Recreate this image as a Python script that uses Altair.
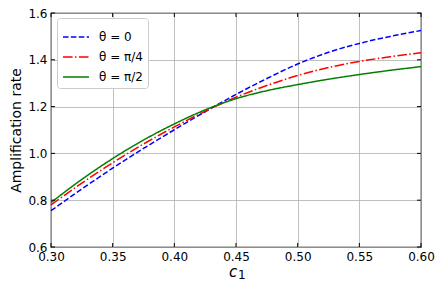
import altair as alt
import pandas as pd

c1 = [0.30, 0.325, 0.35, 0.375, 0.40, 0.425, 0.45, 0.475, 0.50, 0.525, 0.55, 0.575, 0.60]
rate_theta_0 = [0.755, 0.848, 0.937, 1.021, 1.101, 1.178, 1.252, 1.320, 1.382, 1.432, 1.470, 1.500, 1.525]
rate_theta_pi4 = [0.780, 0.873, 0.960, 1.040, 1.113, 1.180, 1.240, 1.290, 1.333, 1.367, 1.393, 1.413, 1.430]
rate_theta_pi2 = [0.790, 0.889, 0.978, 1.057, 1.126, 1.186, 1.234, 1.268, 1.294, 1.317, 1.337, 1.355, 1.371]
series_labels = ["θ = 0", "θ = π/4", "θ = π/2"]
series_colors = ["#0000ff", "#ff0000", "#008000"]
series_dash = [[5.5, 2.4], [9.6, 2.4, 1.5, 2.4], [1, 0]]
x_ticks = [0.30, 0.35, 0.40, 0.45, 0.50, 0.55, 0.60]
y_ticks = [0.6, 0.8, 1.0, 1.2, 1.4, 1.6]
x_title_main = "c"
x_title_sub = "1"
y_title = "Amplification rate"

W, H = 370, 234

rows = []
for lab, vals in zip(series_labels, [rate_theta_0, rate_theta_pi4, rate_theta_pi2]):
    for xv, yv in zip(c1, vals):
        rows.append({"c1": xv, "rate": yv, "series": lab})
df = pd.DataFrame(rows)

xscale = alt.Scale(domain=[0.3, 0.6], nice=False, zero=False)
yscale = alt.Scale(domain=[0.6, 1.6], nice=False, zero=False)

xaxis = alt.Axis(
    values=x_ticks, format=".2f", title=None, labelFlush=False,
    labelFontSize=12, labelPadding=4, tickSize=0, grid=True, domain=False,
)
yaxis = alt.Axis(
    values=y_ticks, format=".1f", title=y_title, labelFlush=False,
    titleFontSize=14, titleFontWeight="normal", titlePadding=4,
    labelFontSize=12, labelPadding=4, tickSize=0, grid=True, domain=False,
)

leg = alt.Legend(
    title=None, orient="none", legendX=6, legendY=5,
    symbolType="stroke", symbolSize=676, symbolStrokeWidth=1.5,
    labelFontSize=12, labelFont="DejaVu Sans", labelColor="black",
    padding=5, rowPadding=-1, labelOffset=9,
    strokeColor="#cccccc", fillColor="white", cornerRadius=3,
)

lines = alt.Chart(df).mark_line(strokeWidth=1.5, interpolate="monotone").encode(
    x=alt.X("c1:Q", scale=xscale, axis=xaxis),
    y=alt.Y("rate:Q", scale=yscale, axis=yaxis),
    color=alt.Color("series:N", scale=alt.Scale(domain=series_labels, range=series_colors), legend=leg),
    strokeDash=alt.StrokeDash("series:N", scale=alt.Scale(domain=series_labels, range=series_dash), legend=leg),
)

xt = pd.DataFrame({"t": x_ticks})
yt = pd.DataFrame({"t": y_ticks})
tick_bottom = alt.Chart(xt).mark_rule(color="black", strokeWidth=1).encode(
    x=alt.X("t:Q", scale=xscale, axis=xaxis), y=alt.value(H), y2=alt.value(H - 4))
tick_top = alt.Chart(xt).mark_rule(color="black", strokeWidth=1).encode(
    x=alt.X("t:Q", scale=xscale, axis=xaxis), y=alt.value(0), y2=alt.value(4))
tick_left = alt.Chart(yt).mark_rule(color="black", strokeWidth=1).encode(
    y=alt.Y("t:Q", scale=yscale, axis=yaxis), x=alt.value(0), x2=alt.value(4))
tick_right = alt.Chart(yt).mark_rule(color="black", strokeWidth=1).encode(
    y=alt.Y("t:Q", scale=yscale, axis=yaxis), x=alt.value(W), x2=alt.value(W - 4))

title_df = pd.DataFrame({"main": [x_title_main], "sub": [x_title_sub]})
xt_main = alt.Chart(title_df).mark_text(
    font="DejaVu Sans", fontSize=15, fontStyle="italic", align="center", baseline="alphabetic", color="black"
).encode(text="main:N", x=alt.value(182), y=alt.value(264))
xt_sub = alt.Chart(title_df).mark_text(
    font="DejaVu Sans", fontSize=12, align="left", baseline="alphabetic", color="black"
).encode(text="sub:N", x=alt.value(187), y=alt.value(266))

chart = alt.layer(lines, tick_bottom, tick_top, tick_left, tick_right, xt_main, xt_sub).properties(
    width=W, height=H,
    autosize=alt.AutoSizeParams(type="none"),
    padding={"left": 43, "top": 5, "right": 14, "bottom": 35},
).configure_view(stroke="black", strokeWidth=1.2).configure_axis(
    gridColor="#b0b0b0", gridWidth=0.8, labelColor="black", titleColor="black",
    labelFont="DejaVu Sans", titleFont="DejaVu Sans",
)

chart.save("out.html", embed_options={"renderer": "svg", "actions": False})
